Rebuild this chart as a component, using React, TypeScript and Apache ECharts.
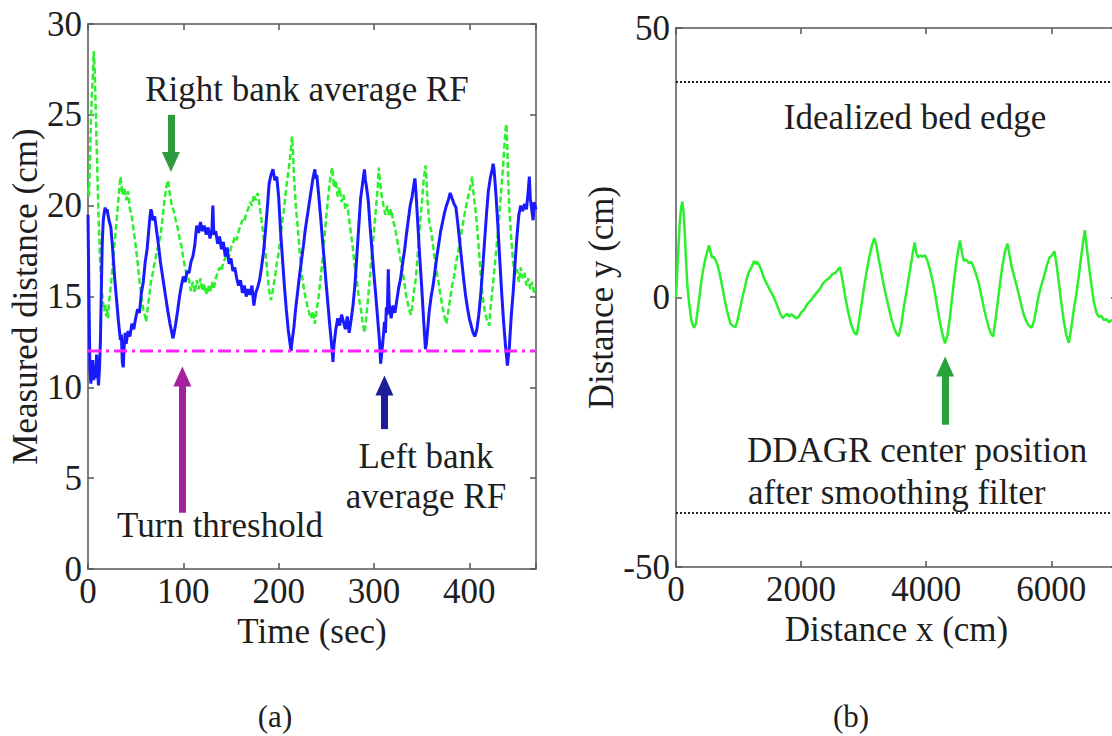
import React, { useEffect, useRef } from "react";
import * as echarts from "echarts";

// ---------- Panel (a): measured distance vs time ----------
const TIME_RANGE = [0, 470];
const DIST_RANGE = [0, 30];
const TURN_THRESHOLD = 12;

// Left bank average RF (blue, solid): [time (s), distance (cm)]
const LEFT_BANK: number[][] = [
  [0, 19.5], [1, 15], [2, 11], [3, 10.2], [4, 10.8], [5, 11.5], [6, 10.4], [7, 11.2], [8, 10.5], [9, 11.8],
  [10, 10.9], [11, 10.1], [12, 11], [13, 12.5], [14, 15.5], [15, 18], [16, 19.2], [17, 19.6], [18, 19.9], [19, 19.6],
  [20, 19.8], [22, 19.2], [24, 18.8], [26, 17.5], [28, 16], [30, 14.8], [32, 13.6], [34, 12.6], [35, 12.9], [36, 11.4],
  [37, 11.1], [38, 12.3], [39, 13], [40, 12.4], [42, 13.1], [44, 12.8], [46, 13.5], [48, 13.2], [50, 13.8], [52, 14.3],
  [54, 14.1], [56, 15.2], [58, 15.8], [60, 16.9], [62, 17.6], [64, 18.8], [65, 19.4], [66, 19.8], [67, 19.6], [68, 19.2],
  [70, 19.4], [72, 18.6], [74, 17.8], [76, 16.9], [78, 16.2], [80, 15.5], [82, 14.8], [84, 14.1], [86, 13.5], [88, 13],
  [89, 12.7], [90, 12.9], [92, 13.5], [94, 14.2], [96, 15], [98, 15.6], [100, 16.1], [102, 15.8], [104, 16.4], [106, 16.3],
  [108, 16.9], [110, 17.2], [112, 17.8], [114, 18.9], [116, 18.5], [118, 19.1], [120, 18.6], [122, 18.9], [124, 18.4], [126, 18.8],
  [128, 18.2], [130, 18.7], [131, 20], [132, 18.4], [134, 18.6], [136, 17.9], [138, 18.3], [140, 17.6], [142, 18], [144, 17.2],
  [146, 17.7], [148, 16.8], [150, 17.1], [152, 16.4], [154, 16.6], [156, 16], [158, 15.6], [160, 15.9], [162, 15.2], [164, 15.6],
  [166, 15], [168, 15.4], [170, 15.1], [172, 15.6], [174, 14.5], [176, 15.2], [178, 15.5], [180, 15.9], [182, 16.6], [184, 17.4],
  [186, 18.5], [188, 19.8], [190, 21.2], [192, 21.7], [194, 22], [196, 21.4], [198, 21.6], [200, 20.5], [202, 18.6], [204, 17.1],
  [206, 15.6], [208, 14.3], [210, 13.2], [212, 12.4], [213, 12], [214, 12.5], [216, 13.3], [218, 14.4], [220, 15.3], [222, 16.2],
  [224, 17], [226, 17.8], [228, 18.7], [230, 19.4], [232, 20.1], [234, 20.8], [236, 21.5], [238, 22], [239, 21.5], [240, 21.7],
  [242, 20.6], [244, 19.4], [246, 18.1], [248, 16.9], [250, 15.6], [252, 14.4], [254, 13.2], [256, 12.1], [257, 11.4], [258, 12.3],
  [260, 13.2], [262, 13.8], [264, 13.4], [266, 14], [268, 13.6], [270, 13.2], [272, 13.9], [274, 13], [276, 13.7], [278, 14.5],
  [280, 15.6], [282, 17.2], [284, 18.8], [286, 20.4], [288, 21.2], [290, 22], [291, 21.4], [292, 21.1], [294, 20.3], [296, 18.8],
  [298, 17.5], [300, 16.2], [302, 15], [304, 13.7], [306, 12.4], [307, 11.3], [308, 11.8], [310, 12.9], [311, 13.6], [312, 13],
  [313, 14.4], [314, 14], [315, 16.5], [316, 14.6], [318, 13.8], [320, 14.5], [322, 14.1], [324, 14.8], [326, 15.5], [328, 16],
  [330, 16.8], [332, 17.5], [334, 18.4], [336, 19.2], [338, 20], [340, 20.5], [342, 21.2], [343, 21.5], [344, 20.8], [346, 19],
  [348, 17.2], [350, 15.6], [352, 13.8], [354, 12.1], [355, 12.4], [356, 13], [358, 14.2], [360, 15], [362, 15.6], [364, 16.4],
  [366, 17.2], [368, 17.9], [370, 18.6], [372, 19.1], [374, 19.6], [376, 20], [378, 20.3], [380, 20.7], [382, 20.4], [384, 20.1],
  [386, 19.9], [388, 19], [390, 18], [392, 17], [394, 16], [396, 15.1], [398, 14.4], [400, 13.8], [402, 13.4], [404, 13],
  [406, 12.8], [408, 13.2], [410, 14], [412, 15.1], [414, 16.5], [416, 18], [418, 19.5], [420, 20.8], [422, 21.5], [424, 22],
  [425, 22.3], [426, 22], [428, 20.6], [430, 18.9], [432, 17], [434, 15.2], [436, 13.6], [438, 12.3], [440, 11.2], [442, 12.2],
  [444, 13.9], [446, 15.2], [448, 16.8], [450, 18.3], [452, 19.5], [454, 20], [456, 19.7], [458, 20.1], [460, 19.8], [462, 20.9],
  [463, 21.6], [464, 20.4], [466, 19.6], [467, 19.2], [468, 20.2], [470, 19.8],
];

// Right bank average RF (green, dashed): [time (s), distance (cm)]
const RIGHT_BANK: number[][] = [
  [0, 21], [1, 20.5], [2, 22.5], [3, 24.5], [4, 26], [5, 27], [6, 28.5], [7, 27.5], [8, 25.5], [9, 23.5],
  [10, 21.5], [11, 19.5], [12, 18], [13, 16.5], [14, 15.8], [15, 15], [16, 14.6], [17, 14.2], [18, 14.6], [19, 13.9],
  [20, 14.3], [21, 13.8], [22, 14.7], [24, 15.6], [26, 16.8], [28, 18], [30, 19.2], [32, 20.4], [34, 21.6], [35, 21.2],
  [36, 20.6], [38, 21], [40, 20.3], [42, 20.8], [44, 19.8], [46, 19.4], [48, 18.6], [50, 17.8], [52, 16.9], [54, 15.9],
  [56, 15], [58, 14.3], [60, 13.9], [61, 13.6], [62, 14.1], [64, 14.9], [66, 15.8], [68, 16.3], [70, 16.9], [72, 17.4],
  [74, 17.9], [76, 18.3], [78, 19.2], [80, 20.2], [82, 21], [84, 21.4], [86, 20.6], [88, 20], [90, 19.7], [92, 19.2],
  [94, 18.8], [96, 18.2], [98, 17.8], [100, 17.1], [102, 16.5], [104, 16.2], [106, 15.9], [108, 15.3], [110, 15.8], [112, 15.2],
  [114, 15.9], [116, 15.4], [118, 16], [120, 15.3], [122, 15.7], [124, 15.1], [126, 15.6], [128, 15.2], [130, 15.8], [132, 15.4],
  [134, 16], [136, 16.3], [138, 16.6], [140, 16.4], [142, 16.9], [144, 17.1], [146, 17.4], [148, 17.2], [150, 17.7], [152, 17.9],
  [154, 18.3], [156, 18.1], [158, 18.6], [160, 18.9], [162, 19.2], [164, 19.1], [166, 19.6], [168, 19.8], [170, 20.2], [172, 20],
  [174, 20.6], [176, 20.3], [178, 20.7], [180, 20], [182, 19.2], [184, 18.4], [186, 17.5], [188, 16.4], [190, 15.3], [192, 14.8],
  [194, 15.4], [196, 16], [198, 16.8], [200, 17.4], [202, 18.3], [204, 19.2], [206, 20], [208, 21], [210, 21.8], [212, 22.6],
  [214, 23.8], [215, 23.2], [216, 21.6], [218, 20], [220, 18.8], [222, 17.5], [224, 16.3], [226, 15.6], [228, 15], [230, 14.5],
  [232, 14.1], [234, 13.8], [236, 14.2], [238, 13.5], [240, 14.3], [242, 15], [244, 16], [246, 17], [248, 18.2], [250, 19.4],
  [252, 20.5], [254, 21.4], [256, 22.1], [257, 21.6], [258, 21], [260, 21.4], [262, 20.5], [264, 21], [266, 20.2], [268, 20.6],
  [270, 19.8], [272, 20.1], [274, 19.2], [276, 18.4], [278, 17.6], [280, 16.6], [282, 15.9], [284, 15], [286, 14.4], [288, 13.6],
  [290, 13], [291, 13.4], [292, 13.9], [294, 15], [296, 16.2], [298, 17.4], [300, 18.6], [302, 19.8], [304, 21], [305, 22.1],
  [306, 21.5], [308, 20.6], [310, 20], [312, 19.5], [314, 20], [316, 19.4], [318, 19.8], [320, 19.2], [322, 18.8], [324, 18.2],
  [326, 17.6], [328, 17], [330, 16.4], [332, 15.7], [334, 15], [336, 14.5], [338, 14.1], [339, 14], [340, 14.4], [342, 15.3],
  [344, 16], [346, 17.4], [348, 18.8], [350, 20], [352, 21.3], [354, 22.2], [355, 21.6], [356, 20.4], [358, 19.1], [360, 18.6],
  [362, 17.8], [364, 17], [366, 16.3], [368, 15.7], [370, 15], [372, 14.4], [374, 13.9], [376, 13.5], [378, 14.2], [380, 14.9],
  [382, 15.6], [384, 16.1], [386, 16.8], [388, 17.4], [390, 17.9], [392, 18.6], [394, 19.2], [396, 19.8], [398, 20.3], [400, 20.8],
  [402, 21.3], [403, 21.6], [404, 20.9], [406, 20], [408, 19], [410, 17.6], [412, 16.2], [414, 15], [416, 14.3], [418, 13.8],
  [420, 13.5], [421, 13.4], [422, 14.2], [424, 15.2], [426, 16.3], [428, 17.4], [430, 18.5], [432, 19.8], [434, 21.2], [436, 22.6],
  [438, 24.2], [439, 24.5], [440, 23], [441, 21.2], [442, 19.8], [444, 18.2], [446, 16.9], [448, 16.2], [450, 16.5], [452, 15.8],
  [454, 16.6], [456, 16], [458, 16.3], [460, 15.6], [462, 16], [464, 15.4], [466, 15.8], [468, 15.2], [470, 15.4],
];

// ---------- Panel (b): DDAGR center position ----------
const DIST_X_RANGE = [0, 7050];
const DIST_Y_RANGE = [-50, 50];
const BED_EDGES = [40, -40];

// Smoothed centre position (green, solid): [distance x (cm), distance y (cm)]
const CENTER_POS: number[][] = [
  [0, 0], [20, 5], [40, 9.5], [60, 14], [80, 16.5], [100, 17.8], [120, 16], [140, 12], [160, 7], [180, 2.5],
  [200, 0], [220, -2], [250, -4.5], [290, -5.6], [320, -4.8], [350, -2], [380, 0.5], [410, 3.5], [440, 5.5], [470, 7.2],
  [500, 8.5], [527, 9.7], [550, 8.6], [575, 7.4], [600, 7.6], [630, 7], [660, 6.2], [690, 4.8], [720, 3.2], [750, 1.4],
  [780, -0.5], [810, -2.2], [840, -3.5], [870, -4.8], [900, -5.2], [950, -5.5], [980, -4.4], [1010, -2.8], [1040, -1.2], [1070, 0.4],
  [1100, 1.8], [1130, 3.4], [1160, 4.6], [1190, 5.2], [1220, 6], [1250, 6.8], [1270, 6.2], [1300, 6.6], [1330, 6], [1360, 5.2],
  [1400, 3.8], [1430, 3], [1460, 2.4], [1500, 1.4], [1540, 0.6], [1580, -0.4], [1620, -1.6], [1660, -2.8], [1700, -3.8], [1740, -3.4],
  [1780, -3], [1810, -3.6], [1840, -3.1], [1880, -3.4], [1920, -3.9], [1960, -3.6], [2000, -2.8], [2050, -2.2], [2100, -1.2], [2150, -0.6],
  [2200, 0.2], [2250, 0.9], [2300, 1.6], [2350, 2.6], [2400, 3.2], [2450, 3.6], [2500, 4.3], [2550, 4.6], [2590, 5.2], [2620, 5.6],
  [2650, 4], [2700, 0.5], [2750, -2.6], [2800, -5], [2850, -6.5], [2890, -6.9], [2930, -4], [2970, -1], [3010, 2.2], [3050, 5],
  [3090, 7.5], [3130, 9.6], [3170, 11], [3200, 9.8], [3240, 7.2], [3280, 4.8], [3320, 2.4], [3360, 0.2], [3400, -1.8], [3440, -3.8],
  [3480, -5.4], [3520, -6.6], [3560, -7.2], [3600, -5.2], [3640, -2], [3680, 0.8], [3720, 3.6], [3760, 6.4], [3790, 8.6], [3815, 10.2],
  [3840, 8.4], [3870, 7.4], [3900, 7.8], [3940, 7.6], [3980, 7.8], [4020, 6.8], [4060, 5.2], [4100, 3.2], [4140, 0.8], [4180, -2],
  [4220, -4.6], [4260, -6.8], [4300, -8.5], [4340, -7], [4380, -3.6], [4420, 0.6], [4460, 4.6], [4500, 8], [4540, 10.6], [4570, 8.4],
  [4600, 6.8], [4640, 7], [4680, 6.4], [4720, 6.6], [4760, 5.6], [4800, 4.2], [4840, 2.6], [4880, 0.4], [4920, -1.8], [4960, -3.8],
  [5000, -5.6], [5040, -6.8], [5070, -7.2], [5100, -4.8], [5140, -1.2], [5180, 2.6], [5220, 6], [5260, 8.6], [5300, 10], [5330, 8],
  [5360, 6], [5400, 4.2], [5440, 2.4], [5480, 0.6], [5520, -1.4], [5560, -3.2], [5600, -4.4], [5640, -5.2], [5690, -5.6], [5730, -4],
  [5770, -1.4], [5810, 1], [5850, 2.6], [5890, 4.2], [5930, 6], [5970, 7.4], [6010, 7.8], [6050, 8.6], [6080, 6.4], [6120, 2.8],
  [6160, -1], [6200, -4.4], [6240, -7], [6280, -8.4], [6320, -5.6], [6360, -2.2], [6400, 0.6], [6440, 4], [6480, 7.8], [6510, 10.4],
  [6535, 12.5], [6560, 10], [6600, 6], [6640, 2.4], [6680, -0.8], [6720, -2.8], [6760, -3.6], [6800, -3.4], [6840, -4.2], [6880, -4],
  [6920, -4.6], [6960, -4.2], [7000, -4.4], [7050, -4],
];

// Annotation arrows: [x, tailY, tipY]
const ARROW_RIGHT_BANK = [87, 25, 22.4];
const ARROW_THRESHOLD = [99, 3.1, 10.6];
const ARROW_LEFT_BANK = [311, 7.7, 10.1];
const ARROW_CENTER = [4302, -23.6, -12.8];

const FONT = "Liberation Serif, Times New Roman, serif";
const TEXT_COLOR = "#1e1e1e";
const AXIS_COLOR = "#808080";

export default function App() {
  const ref = useRef<HTMLDivElement>(null);

  useEffect(() => {
    if (!ref.current) return;
    const chart = echarts.init(ref.current, undefined, { renderer: "svg" });

    const labelStyle = { fontFamily: FONT, fontSize: 35, color: TEXT_COLOR };
    const axisLine = { show: true, onZero: false, lineStyle: { color: AXIS_COLOR, width: 2 } };
    const tick = { show: true, inside: true, length: 6, lineStyle: { color: "#555", width: 1.5 } };

    const mkX = (grid: number, range: number[], interval: number, step: number, name: string, pos: string, show: boolean) => ({
      type: "value",
      gridIndex: grid,
      position: pos,
      min: range[0],
      max: range[1],
      interval,
      name: show ? name : "",
      nameLocation: "middle",
      nameGap: 30,
      nameTextStyle: { ...labelStyle },
      axisLine,
      axisTick: tick,
      splitLine: { show: false },
      axisLabel: {
        show,
        ...labelStyle,
        margin: 5,
        formatter: (v: number) => (v % step === 0 ? String(v) : ""),
      },
    });
    const mkY = (grid: number, range: number[], interval: number, name: string, pos: string, show: boolean, gap: number) => ({
      type: "value",
      gridIndex: grid,
      position: pos,
      min: range[0],
      max: range[1],
      interval,
      name: show ? name : "",
      nameLocation: "middle",
      nameGap: gap,
      nameTextStyle: { ...labelStyle },
      axisLine,
      axisTick: tick,
      splitLine: { show: false },
      axisLabel: { show, ...labelStyle, margin: 6 },
    });

    const arrow = (a: number[], color: string) => [
      { coord: [a[0], a[1]], lineStyle: { color, width: 7, type: "solid" }, symbolSize: [18, 20] },
      { coord: [a[0], a[2]] },
    ];

    const text = (t: string, x: number, y: number, align = "center", size = 35) => ({
      type: "text",
      x,
      y,
      silent: true,
      style: {
        text: t,
        fill: TEXT_COLOR,
        fontFamily: FONT,
        fontSize: size,
        align,
        verticalAlign: "middle",
      },
    });

    chart.setOption({
      animation: false,
      backgroundColor: "#ffffff",
      textStyle: { fontFamily: FONT },
      grid: [
        { left: 88, top: 24, width: 448, height: 545 },
        { left: 676, top: 28, width: 441, height: 539 },
      ],
      xAxis: [
        mkX(0, TIME_RANGE, 100, 100, "Time (sec)", "bottom", true),
        mkX(1, DIST_X_RANGE, 2000, 2000, "Distance x (cm)", "bottom", true),
        mkX(0, TIME_RANGE, 100, 100, "", "top", false),
        mkX(1, DIST_X_RANGE, 2000, 2000, "", "top", false),
      ],
      yAxis: [
        mkY(0, DIST_RANGE, 5, "Measured distance (cm)", "left", true, 45),
        mkY(1, DIST_Y_RANGE, 50, "Distance y (cm)", "left", true, 57),
        mkY(0, DIST_RANGE, 5, "", "right", false, 0),
        mkY(1, DIST_Y_RANGE, 50, "", "right", false, 0),
      ],
      series: [
        {
          name: "Right bank average RF",
          type: "line",
          xAxisIndex: 0,
          yAxisIndex: 0,
          data: RIGHT_BANK,
          showSymbol: false,
          silent: true,
          lineStyle: { color: "#2bf02b", width: 2.5, type: [6, 3] },
          z: 2,
        },
        {
          name: "Left bank average RF",
          type: "line",
          xAxisIndex: 0,
          yAxisIndex: 0,
          data: LEFT_BANK,
          showSymbol: false,
          silent: true,
          lineStyle: { color: "#1a1aff", width: 3 },
          z: 3,
        },
        {
          name: "Turn threshold",
          type: "line",
          xAxisIndex: 0,
          yAxisIndex: 0,
          data: [
            [TIME_RANGE[0], TURN_THRESHOLD],
            [TIME_RANGE[1], TURN_THRESHOLD],
          ],
          showSymbol: false,
          silent: true,
          lineStyle: { color: "#ff22ff", width: 3, type: [13, 5, 3, 5] },
          z: 4,
          markLine: {
            silent: true,
            symbol: ["none", "triangle"],
            symbolSize: [18, 20],
            label: { show: false },
            data: [
              arrow(ARROW_RIGHT_BANK, "#2e9c3e"),
              arrow(ARROW_THRESHOLD, "#a3209f"),
              arrow(ARROW_LEFT_BANK, "#1d1d9a"),
            ],
          },
        },
        {
          name: "DDAGR center position",
          type: "line",
          xAxisIndex: 1,
          yAxisIndex: 1,
          data: CENTER_POS,
          showSymbol: false,
          silent: true,
          lineStyle: { color: "#2bf02b", width: 2.5 },
          z: 3,
        },
        ...BED_EDGES.map((e, i) => ({
          name: "Idealized bed edge " + i,
          type: "line",
          xAxisIndex: 1,
          yAxisIndex: 1,
          data: [
            [DIST_X_RANGE[0], e],
            [DIST_X_RANGE[1], e],
          ],
          showSymbol: false,
          silent: true,
          lineStyle: { color: "#222", width: 2, type: [2, 2] },
          z: 2,
          markLine:
            i === 0
              ? {
                  silent: true,
                  symbol: ["none", "triangle"],
                  symbolSize: [18, 20],
                  label: { show: false },
                  data: [arrow(ARROW_CENTER, "#28a23a")],
                }
              : undefined,
        })),
      ],
      graphic: [
        text("Right bank average RF", 307, 89),
        text("Turn threshold", 220, 525),
        text("Left bank", 426, 456),
        text("average RF", 426, 496),
        text("Idealized bed edge", 915, 117),
        text("DDAGR center position", 747, 450, "left"),
        text("after smoothing filter", 748, 492, "left"),
        text("(a)", 275, 716, "center", 31),
        text("(b)", 851, 716, "center", 31),
      ],
    });

    return () => chart.dispose();
  }, []);

  return (
    <div
      style={{
        position: "fixed",
        left: 0,
        top: 0,
        width: 1112,
        height: 736,
        overflow: "hidden",
        background: "#fff",
      }}
    >
      <div ref={ref} style={{ width: 1180, height: 736 }} />
    </div>
  );
}
